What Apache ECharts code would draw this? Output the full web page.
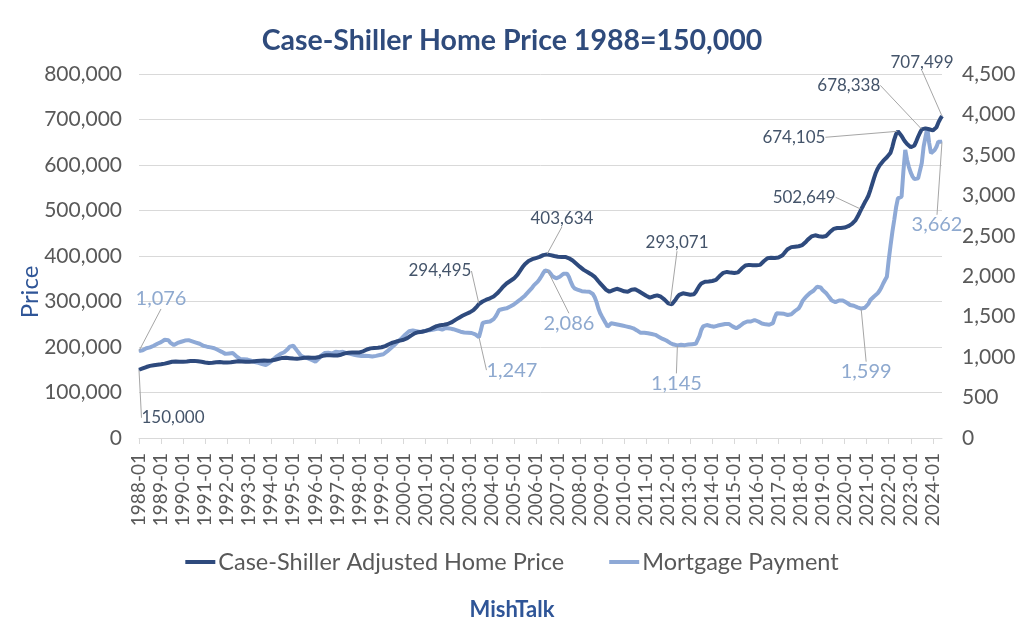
<!DOCTYPE html>
<html><head><meta charset="utf-8">
<script src="https://cdn.jsdelivr.net/npm/echarts@6/dist/echarts.min.js"></script>
<style>html,body{margin:0;padding:0;background:#fff}#c{width:1024px;height:643px}</style>
</head><body><div id="c"></div>
<script>
// Case-Shiller adjusted home price, monthly 1988-01 .. 2024-06
const priceValues = [
150000,151500,153000,154500,156000,157500,158500,159500,160000,160500,161000,161500,
162000,162500,163500,164500,165500,166500,167500,168000,168000,168000,167500,167500,
167500,167500,168000,168500,169000,169500,169500,169000,168500,168000,167500,167000,
166000,165500,165000,165000,165500,166000,166500,167000,167000,166500,166000,166000,
166000,166000,166500,167000,167500,168000,168500,168500,168000,168000,167500,167500,
167500,167500,168000,168500,169000,169500,170000,170500,170500,170500,170000,170000,
170500,171000,172000,173000,174000,175000,176000,176500,176500,176000,175500,175000,
174500,174000,174000,174500,175000,176000,176500,177000,177000,177000,176500,176500,
176500,177000,178000,179500,180500,181500,182000,182000,182000,181500,181500,181500,
181500,182000,183000,184500,186000,187000,187500,188000,188000,188000,188000,188000,
188000,189000,190500,192500,194500,196000,197000,197500,198000,198000,198500,199000,
199500,200500,202000,204000,206000,208000,209500,211000,212000,213000,214000,215000,
216000,217500,219500,222000,225000,228000,230000,231500,232500,233000,233500,234500,
235500,236500,238000,240000,242000,244000,246000,247000,248000,248500,249000,249500,
250500,252000,254000,256500,259000,261500,264000,266500,268500,270500,272500,274500,
276000,278000,281000,285000,289500,294495,297500,300000,302000,304000,305500,307000,
309000,311000,314000,318000,322000,327000,332000,336000,339500,342500,345000,347500,
350500,354000,359000,365000,371000,377000,382000,386000,389000,391500,393000,394500,
395500,396500,398000,400000,402000,403200,403634,403000,402000,401000,400000,399000,
398500,398000,398000,398500,398000,396500,395000,393000,390000,386500,383000,379500,
376000,372500,369500,367000,365000,362500,360000,357500,354000,349500,344500,340000,
336000,331000,326500,323000,321500,322500,325000,327500,328000,327000,325500,324000,
322500,321000,321500,323500,326000,327500,327000,325000,322500,320000,317500,315000,
312500,310000,308500,309500,311500,313000,313500,312500,310500,307500,304000,300000,
296000,293071,294000,298000,304000,310000,314500,317000,318000,317500,316500,316000,
315000,314000,316000,321000,328000,334500,339500,342500,343500,344000,344000,344500,
345000,345500,347500,351500,356000,360000,363000,364500,365000,364500,363500,363000,
362500,362000,364000,368000,372500,376500,379000,380500,380500,380000,379500,379500,
379500,379500,380500,384000,388500,392500,395000,396000,396000,395500,395500,396000,
396500,397500,401000,405500,410500,415000,418000,419500,420000,420500,421000,421500,
422500,424000,427500,431500,436000,440000,443000,445000,445500,444500,443500,443000,
442500,442000,444000,448000,452500,456500,459500,461000,461500,461500,461500,462000,
462500,463500,465500,468000,470500,473500,479000,486000,494000,502649,510000,518000,
525000,533000,545000,558000,571000,583000,592000,599000,604000,609000,613000,617000,
620000,627000,640000,656000,668000,674105,671000,664000,657000,651000,646000,642000,
639000,638000,643000,652000,662000,671000,678338,680000,680500,680000,678500,677000,
676000,677000,683000,693000,701000,707499
];
// Mortgage payment, monthly 1988-01 .. 2024-06
const paymentValues = [
1076,1060,1085,1100,1110,1105,1120,1135,1140,1150,1165,1175,
1185,1200,1215,1224,1210,1180,1160,1150,1165,1175,1180,1190,
1195,1205,1212,1210,1205,1195,1191,1180,1175,1165,1150,1140,
1135,1129,1125,1120,1115,1110,1100,1088,1075,1065,1055,1040,
1035,1045,1055,1050,1035,1010,990,977,968,975,980,970,
964,955,945,940,935,930,927,915,905,903,915,930,
945,970,989,1010,1026,1040,1050,1060,1075,1100,1130,1150,
1140,1110,1080,1050,1020,1005,995,990,985,975,964,955,
944,955,985,1015,1035,1050,1060,1055,1050,1045,1055,1067,
1065,1060,1062,1065,1055,1050,1045,1040,1035,1030,1026,1020,
1018,1015,1014,1016,1018,1014,1010,1008,1010,1015,1020,1026,
1026,1035,1050,1070,1090,1110,1129,1150,1170,1195,1215,1233,
1253,1280,1300,1320,1335,1330,1325,1320,1314,1310,1314,1320,
1325,1330,1332,1335,1340,1345,1350,1352,1345,1340,1350,1360,
1360,1355,1350,1345,1340,1330,1320,1314,1310,1305,1300,1302,
1300,1298,1290,1280,1265,1247,1330,1422,1430,1435,1438,1440,
1445,1470,1500,1540,1583,1590,1595,1600,1603,1610,1625,1640,
1650,1665,1685,1700,1720,1740,1760,1785,1810,1830,1860,1890,
1910,1933,1965,2000,2040,2070,2086,2060,2030,2000,1985,1974,
1980,1994,2010,2030,2044,2030,1990,1930,1880,1850,1835,1830,
1825,1815,1809,1810,1812,1809,1800,1780,1740,1680,1600,1542,
1500,1460,1420,1376,1390,1418,1415,1410,1405,1400,1395,1390,
1385,1380,1375,1370,1365,1356,1345,1330,1315,1300,1305,1300,
1300,1294,1290,1285,1280,1275,1265,1250,1235,1225,1215,1205,
1190,1175,1165,1155,1150,1145,1148,1152,1150,1148,1150,1155,
1158,1160,1162,1165,1185,1260,1335,1380,1400,1397,1390,1385,
1380,1376,1380,1390,1395,1400,1405,1410,1418,1410,1395,1380,
1365,1356,1370,1385,1400,1420,1438,1440,1435,1440,1450,1459,
1459,1440,1425,1415,1410,1405,1397,1400,1405,1420,1490,1542,
1545,1540,1545,1535,1525,1521,1525,1530,1545,1570,1590,1603,
1640,1690,1720,1747,1770,1790,1809,1820,1845,1870,1892,1860,
1830,1810,1789,1760,1730,1700,1685,1680,1690,1700,1706,1700,
1690,1675,1660,1644,1640,1635,1625,1615,1605,1599,1600,1610,
1630,1660,1706,1730,1750,1770,1789,1820,1860,1910,1953,1994,
2200,2380,2550,2695,2850,2963,2975,2984,3300,3561,3437,3350,
3280,3231,3200,3190,3210,3231,3400,3602,3720,3829,3650,3520,
3500,3561,3600,3664,3680,3662
];
const startYear = 1988;
const categories = priceValues.map((_, i) => {
  const y = startYear + Math.floor(i / 12), m = i % 12 + 1;
  return y + '-' + (m < 10 ? '0' : '') + m;
});
const seriesNames = ['Case-Shiller Adjusted Home Price', 'Mortgage Payment'];
const priceLabelIdx = [0, 185, 222, 289, 393, 413, 426, 437];
const paymentLabelIdx = [0, 185, 222, 293, 393, 437];

// label placement offsets (pixels from the point to label centre)
const priceLabelOffset = {0:[34,48],185:[-39,-33],222:[15,-36],289:[7,-62],393:[-57,-12],413:[-104,6],426:[-73,-44],437:[-20,-54]};
const paymentLabelOffset = {0:[22,-52],185:[33,33],222:[22,54],293:[-1,38],393:[5,63],437:[-5,83]};

const FONT = 'Lato, "Noto Sans", sans-serif';
const DARK = '#2E4A7D', LIGHT = '#8EA9D6';
const fmt = v => Number(v).toLocaleString('en-US');

function buildData(values, idxs, color, size) {
  return values.map((v, i) => idxs.indexOf(i) >= 0 ? {
    value: v, symbol: 'circle', symbolSize: 1,
    label: { show: true, position: 'inside', formatter: p => fmt(p.value), color: color, fontSize: size, fontFamily: FONT }
  } : v);
}
function layoutFn(offsets) {
  return function (p) {
    const o = offsets[p.dataIndex];
    if (!o) return {};
    return { x: p.rect.x + p.rect.width / 2 + o[0], y: p.rect.y + p.rect.height / 2 + o[1], align: 'center', verticalAlign: 'middle' };
  };
}

const chart = echarts.init(document.getElementById('c'), null, { renderer: 'canvas' });
chart.setOption({
  animation: false,
  backgroundColor: '#ffffff',
  textStyle: { fontFamily: FONT },
  title: [
    { text: 'Case-Shiller Home Price 1988=150,000', left: 'center', top: 21,
      textStyle: { fontSize: 28.5, fontWeight: 'bold', color: '#2F4B7C', fontFamily: FONT } },
    { text: 'MishTalk', left: 'center', top: 594,
      textStyle: { fontSize: 22, fontWeight: 'bold', color: '#2F5597', fontFamily: FONT } }
  ],
  graphic: [{
    type: 'text', x: 30, y: 292, rotation: Math.PI / 2,
    style: { text: 'Price', fontSize: 24, fill: '#2F5597', fontFamily: FONT, align: 'center', verticalAlign: 'middle' }
  }],
  legend: {
    data: seriesNames, left: 'center', top: 545, icon: 'rect', itemWidth: 30, itemHeight: 4, itemGap: 45,
    textStyle: { fontSize: 23.5, color: '#595959', fontFamily: FONT, padding: [0, 0, 0, -2] }
  },
  grid: { left: 139, right: 82, top: 74, bottom: 205, containLabel: false },
  xAxis: {
    type: 'category', data: categories, boundaryGap: false,
    axisLine: { lineStyle: { color: '#D9D9D9', width: 1 } },
    axisTick: { show: true, interval: 11, length: 6, lineStyle: { color: '#D9D9D9' } },
    axisLabel: { interval: 11, rotate: 90, fontSize: 19, color: '#595959', margin: 15, fontFamily: FONT },
    splitLine: { show: false }
  },
  yAxis: [
    { type: 'value', min: 0, max: 800000, interval: 100000, position: 'left',
      axisLine: { show: false }, axisTick: { show: false },
      splitLine: { lineStyle: { color: '#D9D9D9', width: 1 } },
      axisLabel: { formatter: fmt, fontSize: 21, color: '#595959', margin: 17, fontFamily: FONT } },
    { type: 'value', min: 0, max: 4500, interval: 500, position: 'right',
      axisLine: { show: false }, axisTick: { show: false }, splitLine: { show: false },
      axisLabel: { formatter: fmt, fontSize: 21, color: '#595959', margin: 20, fontFamily: FONT } }
  ],
  series: [
    { name: seriesNames[0], type: 'line', yAxisIndex: 0,
      data: buildData(priceValues, priceLabelIdx, '#44546A', 17),
      symbol: 'none', showSymbol: true, showAllSymbol: true,
      lineStyle: { color: DARK, width: 4 }, itemStyle: { color: DARK },
      labelLine: { show: true, lineStyle: { color: '#A6A6A6', width: 1 } },
      labelLayout: layoutFn(priceLabelOffset),
      emphasis: { disabled: true }, z: 3 },
    { name: seriesNames[1], type: 'line', yAxisIndex: 1,
      data: buildData(paymentValues, paymentLabelIdx, '#8EA9CF', 20),
      symbol: 'none', showSymbol: true, showAllSymbol: true,
      lineStyle: { color: LIGHT, width: 4 }, itemStyle: { color: LIGHT },
      labelLine: { show: true, lineStyle: { color: '#A6A6A6', width: 1 } },
      labelLayout: layoutFn(paymentLabelOffset),
      emphasis: { disabled: true }, z: 2 }
  ]
});
</script>
</body></html>
